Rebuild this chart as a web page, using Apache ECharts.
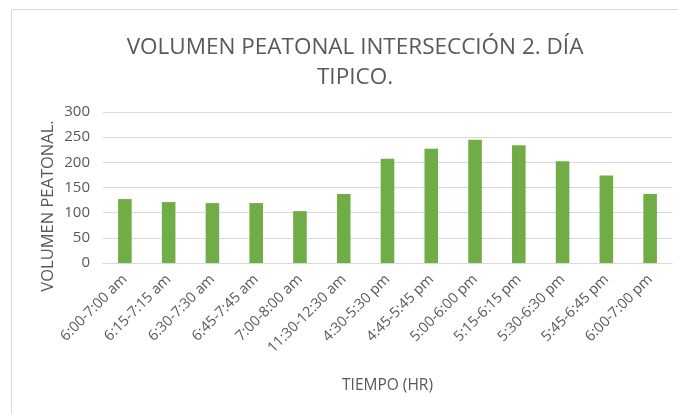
<!DOCTYPE html>
<html>
<head>
<meta charset="utf-8">
<script src="https://cdn.jsdelivr.net/npm/echarts@6/dist/echarts.min.js"></script>
<style>
  html, body { margin: 0; padding: 0; background: #fff; }
  #chart { width: 678px; height: 414px; }
</style>
</head>
<body>
<div id="chart"></div>
<script>
// datos
var categorias = ['6:00-7:00 am', '6:15-7:15 am', '6:30-7:30 am', '6:45-7:45 am', '7:00-8:00 am',
    '11:30-12:30 am', '4:30-5:30 pm', '4:45-5:45 pm', '5:00-6:00 pm', '5:15-6:15 pm',
    '5:30-6:30 pm', '5:45-6:45 pm', '6:00-7:00 pm'];
var volumen = [127, 121, 119, 119, 103, 137, 207, 227, 245, 234, 202, 174, 137];
var ticksY = [0, 50, 100, 150, 200, 250, 300];

var textColor = '#595959';
var fontName = 'Open Sans';

var chart = echarts.init(document.getElementById('chart'));
chart.setOption({
    animation: false,
    graphic: [
        {
            type: 'rect',
            shape: { x: 11.5, y: 9.5, width: 700, height: 420 },
            style: { fill: 'none', stroke: '#D9D9D9', lineWidth: 1 },
            silent: true
        },
        // titulo
        {
            type: 'text',
            x: 355,
            y: 48,
            style: {
                text: 'VOLUMEN PEATONAL INTERSECCIÓN 2. DÍA',
                fill: textColor,
                font: '22.5px "Open Sans"',
                align: 'center',
                verticalAlign: 'middle'
            }
        },
        {
            type: 'text',
            x: 355,
            y: 78,
            style: {
                text: 'TIPICO.',
                fill: textColor,
                font: '22.5px "Open Sans"',
                align: 'center',
                verticalAlign: 'middle'
            }
        },
        {
            type: 'text',
            x: 48,
            y: 206,
            rotation: Math.PI / 2,
            style: {
                text: 'VOLUMEN PEATONAL.',
                fill: textColor,
                font: '16.5px "Open Sans"',
                align: 'center',
                verticalAlign: 'middle'
            }
        }
    ],
    grid: {
        left: 103,
        right: 6,
        top: 112,
        bottom: 151
    },
    xAxis: {
        type: 'category',
        data: categorias,
        name: 'TIEMPO (HR)',
        nameLocation: 'middle',
        nameGap: 115,
        nameTextStyle: { color: textColor, fontFamily: fontName, fontSize: 15.5 },
        axisLine: { lineStyle: { color: '#D9D9D9', width: 1 } },
        axisTick: { show: false },
        axisLabel: {
            rotate: 45,
            interval: 0,
            margin: 14,
            color: textColor,
            fontFamily: fontName,
            fontSize: 14.5
        }
    },
    yAxis: {
        type: 'value',
        min: ticksY[0],
        max: ticksY[ticksY.length - 1],
        interval: ticksY[1] - ticksY[0],
        axisLine: { show: false },
        axisTick: { show: false },
        splitLine: { lineStyle: { color: '#D9D9D9', width: 1 } },
        axisLabel: {
            margin: 13,
            color: textColor,
            fontFamily: fontName,
            fontSize: 15
        }
    },
    series: [
        {
            name: 'Volumen',
            type: 'bar',
            data: volumen,
            barWidth: '31%',
            itemStyle: { color: '#70AD47' }
        }
    ]
});
</script>
</body>
</html>
